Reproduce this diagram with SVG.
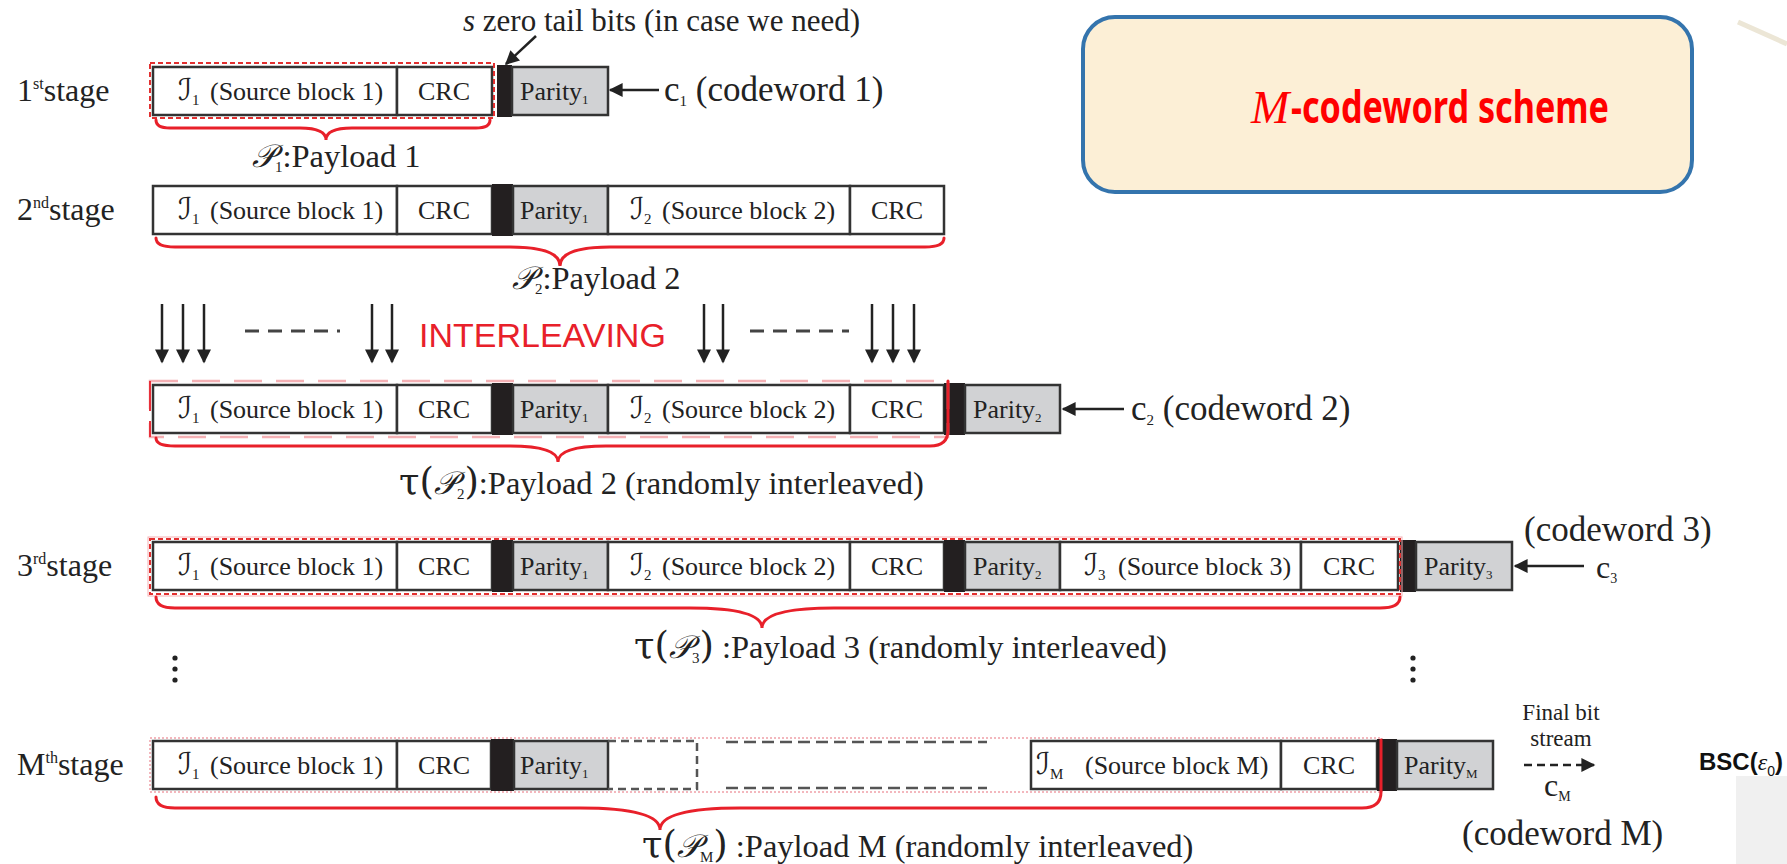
<svg xmlns="http://www.w3.org/2000/svg" width="1787" height="864" viewBox="0 0 1787 864">
<defs>
<style>
.cell{fill:#fff;stroke:#333;stroke-width:2.5}
.par{fill:#d1d2d4;stroke:#333;stroke-width:2.5}
.tail{fill:#231f20}
.t{font-family:"Liberation Serif","DejaVu Serif",serif;font-size:26px;fill:#222}
.scr{font-family:"DejaVu Serif","DejaVu Sans",serif;font-style:italic;font-size:30px}
.lbl{font-family:"Liberation Serif","DejaVu Serif",serif;font-size:32px;fill:#222}
.pl{font-family:"Liberation Serif","DejaVu Serif",serif;font-size:32.5px;fill:#222}
.tau{font-family:"DejaVu Serif","Liberation Serif",serif;font-size:37px;fill:#222}
.cw{font-family:"Liberation Serif","DejaVu Serif",serif;font-size:35px;fill:#222}
.brace{fill:none;stroke:#e8202a;stroke-width:3;stroke-linecap:round}
.rdash{fill:none;stroke:#e23030;stroke-width:2;stroke-dasharray:5 3}
.pdash{fill:none;stroke:#f4b0b4;stroke-width:2.5;stroke-dasharray:28 14}
.pdot{fill:none;stroke:#f0a0a8;stroke-width:1.5;stroke-dasharray:2 2}
.ar{stroke:#222;stroke-width:2.5;fill:none}
.gdash{stroke:#444;stroke-width:3;stroke-dasharray:14 9}
</style>
<marker id="ah" viewBox="0 0 10 10" refX="9" refY="5" markerWidth="16" markerHeight="14" markerUnits="userSpaceOnUse" orient="auto"><path d="M0,0 L10,5 L0,10 z" fill="#222"/></marker>
</defs>

<!-- background artifacts -->
<rect x="1736" y="776" width="51" height="88" fill="#f0f0f0"/>
<line x1="1738" y1="22" x2="1787" y2="44" stroke="#ece6d6" stroke-width="5"/>

<!-- title box -->
<g id="title">
<rect x="1083" y="17" width="609" height="175" rx="32" fill="#fcefd6" stroke="#3474ad" stroke-width="4"/>
<text x="1251" y="123" fill="#ff0000" font-family="Liberation Serif,serif" font-style="italic" font-size="46">M</text>
<text x="1291" y="123" fill="#ff0000" font-family="Noto Sans,Open Sans,sans-serif" font-weight="bold" font-size="44" textLength="318" lengthAdjust="spacingAndGlyphs">-codeword scheme</text>
</g>

<!-- top note -->
<g id="note">
<text x="463" y="31" class="t" style="font-size:31px"><tspan font-style="italic">s</tspan> zero tail bits</text>
<text x="644" y="31" class="t" style="font-size:31px">(in case we need)</text>
</g>

<!-- stage 1 -->
<g id="stage1">
<text x="17" y="101" class="lbl">1<tspan font-size="16" dy="-12">st</tspan><tspan dy="12">stage</tspan></text>
<rect class="cell" x="153" y="67" width="244" height="48"/>
<rect class="cell" x="397" y="67" width="95" height="48"/>
<rect class="tail" x="497" y="65" width="15" height="52"/>
<rect class="par" x="512" y="67" width="96" height="48"/>
<rect class="rdash" x="150" y="63" width="344" height="55"/>
<text x="178" y="100" class="t"><tspan class="scr">ℐ</tspan><tspan font-size="15" dy="5">1</tspan><tspan x="210" dy="-5">(Source block 1)</tspan></text>
<text x="444" y="100" class="t" text-anchor="middle">CRC</text>
<text x="520" y="100" class="t">Parity<tspan font-size="13" dy="4">1</tspan></text>
<text x="664" y="101" class="cw">c<tspan font-size="15" dy="5">1</tspan><tspan dy="-5"> (codeword 1)</tspan></text>
</g>

<!-- stage 2 -->
<g id="stage2">
<text x="17" y="220" class="lbl">2<tspan font-size="16" dy="-12">nd</tspan><tspan dy="12">stage</tspan></text>
<rect class="cell" x="153" y="186" width="244" height="48"/>
<rect class="cell" x="397" y="186" width="95" height="48"/>
<rect class="tail" x="492" y="184" width="21" height="52"/>
<rect class="par" x="513" y="186" width="95" height="48"/>
<rect class="cell" x="608" y="186" width="242" height="48"/>
<rect class="cell" x="850" y="186" width="94" height="48"/>
<text x="178" y="219" class="t"><tspan class="scr">ℐ</tspan><tspan font-size="15" dy="5">1</tspan><tspan x="210" dy="-5">(Source block 1)</tspan></text>
<text x="444" y="219" class="t" text-anchor="middle">CRC</text>
<text x="520" y="219" class="t">Parity<tspan font-size="13" dy="4">1</tspan></text>
<text x="630" y="219" class="t"><tspan class="scr">ℐ</tspan><tspan font-size="15" dy="5">2</tspan><tspan x="662" dy="-5">(Source block 2)</tspan></text>
<text x="897" y="219" class="t" text-anchor="middle">CRC</text>
</g>

<!-- interleaving -->
<g id="interleaving">
<text x="419" y="347" font-family="Liberation Sans,Arial,sans-serif" font-size="34" fill="#e8202a">INTERLEAVING</text>
<line class="gdash" x1="245" y1="331" x2="340" y2="331"/>
<line class="gdash" x1="750" y1="331" x2="849" y2="331"/>
</g>

<!-- interleaved stage 2 -->
<g id="stage2i">
<rect class="cell" x="153" y="385" width="244" height="48"/>
<rect class="cell" x="397" y="385" width="95" height="48"/>
<rect class="tail" x="492" y="383" width="21" height="52"/>
<rect class="par" x="513" y="385" width="95" height="48"/>
<rect class="cell" x="608" y="385" width="242" height="48"/>
<rect class="cell" x="850" y="385" width="94" height="48"/>
<rect class="tail" x="944" y="383" width="21" height="52"/>
<rect class="par" x="965" y="385" width="95" height="48"/>
<rect class="pdash" x="150" y="381" width="798" height="56"/>
<line x1="150" y1="381" x2="150" y2="437" stroke="#e8303a" stroke-width="2" stroke-dasharray="30 10"/>
<text x="178" y="418" class="t"><tspan class="scr">ℐ</tspan><tspan font-size="15" dy="5">1</tspan><tspan x="210" dy="-5">(Source block 1)</tspan></text>
<text x="444" y="418" class="t" text-anchor="middle">CRC</text>
<text x="520" y="418" class="t">Parity<tspan font-size="13" dy="4">1</tspan></text>
<text x="630" y="418" class="t"><tspan class="scr">ℐ</tspan><tspan font-size="15" dy="5">2</tspan><tspan x="662" dy="-5">(Source block 2)</tspan></text>
<text x="897" y="418" class="t" text-anchor="middle">CRC</text>
<text x="973" y="418" class="t">Parity<tspan font-size="13" dy="4">2</tspan></text>
<text x="1131" y="420" class="cw">c<tspan font-size="15" dy="5">2</tspan><tspan dy="-5"> (codeword 2)</tspan></text>
</g>

<!-- stage 3 -->
<g id="stage3">
<text x="17" y="576" class="lbl">3<tspan font-size="16" dy="-12">rd</tspan><tspan dy="12">stage</tspan></text>
<rect class="cell" x="153" y="542" width="244" height="48"/>
<rect class="cell" x="397" y="542" width="95" height="48"/>
<rect class="tail" x="492" y="540" width="21" height="52"/>
<rect class="par" x="513" y="542" width="95" height="48"/>
<rect class="cell" x="608" y="542" width="242" height="48"/>
<rect class="cell" x="850" y="542" width="94" height="48"/>
<rect class="tail" x="944" y="540" width="21" height="52"/>
<rect class="par" x="965" y="542" width="95" height="48"/>
<rect class="cell" x="1060" y="542" width="241" height="48"/>
<rect class="cell" x="1301" y="542" width="97" height="48"/>
<rect class="tail" x="1400" y="540" width="16" height="52"/>
<rect class="par" x="1416" y="542" width="96" height="48"/>
<rect x="148" y="537" width="1254" height="59" fill="none" stroke="#f6b0b4" stroke-width="1"/>
<rect class="rdash" x="150" y="539" width="1250" height="55"/>
<text x="178" y="575" class="t"><tspan class="scr">ℐ</tspan><tspan font-size="15" dy="5">1</tspan><tspan x="210" dy="-5">(Source block 1)</tspan></text>
<text x="444" y="575" class="t" text-anchor="middle">CRC</text>
<text x="520" y="575" class="t">Parity<tspan font-size="13" dy="4">1</tspan></text>
<text x="630" y="575" class="t"><tspan class="scr">ℐ</tspan><tspan font-size="15" dy="5">2</tspan><tspan x="662" dy="-5">(Source block 2)</tspan></text>
<text x="897" y="575" class="t" text-anchor="middle">CRC</text>
<text x="973" y="575" class="t">Parity<tspan font-size="13" dy="4">2</tspan></text>
<text x="1084" y="575" class="t"><tspan class="scr">ℐ</tspan><tspan font-size="15" dy="5">3</tspan><tspan x="1118" dy="-5">(Source block 3)</tspan></text>
<text x="1349" y="575" class="t" text-anchor="middle">CRC</text>
<text x="1424" y="575" class="t">Parity<tspan font-size="13" dy="4">3</tspan></text>
<text x="1524" y="541" class="cw">(codeword 3)</text>
<text x="1596" y="578" class="cw" style="font-size:32px">c<tspan font-size="14" dy="5">3</tspan></text>
</g>

<!-- dots -->
<g id="dots" fill="#222">
<circle cx="175" cy="658" r="2.6"/><circle cx="175" cy="669" r="2.6"/><circle cx="175" cy="680" r="2.6"/>
<circle cx="1413" cy="658" r="2.6"/><circle cx="1413" cy="669" r="2.6"/><circle cx="1413" cy="680" r="2.6"/>
</g>

<!-- stage M -->
<g id="stageM">
<text x="17" y="775" class="lbl">M<tspan font-size="16" dy="-12">th</tspan><tspan dy="12">stage</tspan></text>
<rect class="pdot" x="150" y="738" width="1232" height="54"/>
<rect class="cell" x="153" y="741" width="244" height="48"/>
<rect class="cell" x="397" y="741" width="94" height="48"/>
<rect class="tail" x="491" y="739" width="23" height="52"/>
<rect class="par" x="514" y="741" width="94" height="48"/>
<path d="M608,741 H697 V789 H608" fill="none" stroke="#555" stroke-width="2.5" stroke-dasharray="8 5"/>
<line x1="726" y1="742" x2="987" y2="742" stroke="#555" stroke-width="2.5" stroke-dasharray="12 6"/>
<line x1="726" y1="788" x2="987" y2="788" stroke="#555" stroke-width="2.5" stroke-dasharray="12 6"/>
<rect class="cell" x="1031" y="741" width="250" height="48"/>
<rect class="cell" x="1281" y="741" width="96" height="48"/>
<rect class="tail" x="1377" y="739" width="20" height="52"/>
<rect class="par" x="1397" y="741" width="96" height="48"/>
<text x="178" y="774" class="t"><tspan class="scr">ℐ</tspan><tspan font-size="15" dy="5">1</tspan><tspan x="210" dy="-5">(Source block 1)</tspan></text>
<text x="444" y="774" class="t" text-anchor="middle">CRC</text>
<text x="520" y="774" class="t">Parity<tspan font-size="13" dy="4">1</tspan></text>
<text x="1036" y="774" class="t"><tspan class="scr">ℐ</tspan><tspan font-size="15" dy="5">M</tspan><tspan x="1085" dy="-5">(Source block M)</tspan></text>
<text x="1329" y="774" class="t" text-anchor="middle">CRC</text>
<text x="1404" y="774" class="t">Parity<tspan font-size="13" dy="4">M</tspan></text>
<text x="1561" y="720" class="t" style="font-size:23px" text-anchor="middle">Final bit</text>
<text x="1561" y="746" class="t" style="font-size:23px" text-anchor="middle">stream</text>
<text x="1544" y="796" class="cw" style="font-size:32px">c<tspan font-size="14" dy="5">M</tspan></text>
<text x="1462" y="845" class="cw">(codeword M)</text>
<text x="1699" y="770" font-family="Liberation Sans,Arial,sans-serif" font-weight="bold" font-size="24" fill="#111">BSC(<tspan font-family="Liberation Serif,serif" font-style="italic" font-weight="normal">ε</tspan><tspan font-size="14" dy="6" font-weight="normal">0</tspan><tspan dy="-6">)</tspan></text>
</g>

<!-- payload labels -->
<g id="labels">
<text x="252" y="167" class="pl"><tspan class="scr" style="font-size:32px">𝒫</tspan><tspan font-size="15" dy="5">1</tspan><tspan dy="-5">:Payload 1</tspan></text>
<text x="512" y="289" class="pl"><tspan class="scr" style="font-size:32px">𝒫</tspan><tspan font-size="15" dy="5">2</tspan><tspan dy="-5">:Payload 2</tspan></text>
<text x="399" y="494" class="pl"><tspan class="tau">τ(</tspan><tspan class="scr" style="font-size:32px">𝒫</tspan><tspan font-size="15" dy="5">2</tspan><tspan class="tau" dy="-5">)</tspan>:Payload 2 (randomly interleaved)</text>
<text x="634" y="658" class="pl"><tspan class="tau">τ(</tspan><tspan class="scr" style="font-size:32px">𝒫</tspan><tspan font-size="15" dy="5">3</tspan><tspan class="tau" dy="-5">)</tspan> :Payload 3 (randomly interleaved)</text>
<text x="642" y="857" class="pl"><tspan class="tau">τ(</tspan><tspan class="scr" style="font-size:32px">𝒫</tspan><tspan font-size="15" dy="5">M</tspan><tspan class="tau" dy="-5">)</tspan> :Payload M (randomly interleaved)</text>
</g>

<!-- connectors -->
<g id="connectors">
<line class="ar" x1="536" y1="36" x2="506" y2="64" marker-end="url(#ah)"/>
<line class="ar" x1="659" y1="90" x2="610" y2="90" marker-end="url(#ah)"/>
<line class="ar" x1="1124" y1="409" x2="1063" y2="409" marker-end="url(#ah)"/>
<line class="ar" x1="1584" y1="566" x2="1515" y2="566" marker-end="url(#ah)"/>
<line x1="1524" y1="765" x2="1594" y2="765" stroke="#222" stroke-width="2.5" stroke-dasharray="8 5" marker-end="url(#ah)"/>
<g class="ar" marker-end="url(#ah)">
<line x1="162" y1="304" x2="162" y2="362"/><line x1="183" y1="304" x2="183" y2="362"/><line x1="204" y1="304" x2="204" y2="362"/>
<line x1="372" y1="304" x2="372" y2="362"/><line x1="392" y1="304" x2="392" y2="362"/>
<line x1="704" y1="304" x2="704" y2="362"/><line x1="723" y1="304" x2="723" y2="362"/>
<line x1="872" y1="304" x2="872" y2="362"/><line x1="893" y1="304" x2="893" y2="362"/><line x1="914" y1="304" x2="914" y2="362"/>
</g>
<path class="brace" d="M156,120 Q156,128 170,128 H300 Q326,128 326,140 Q326,128 352,128 H476 Q490,128 490,120"/>
<path class="brace" d="M156,238 Q156,247 175,247 H510 Q560,247 560,266 Q560,247 610,247 H925 Q944,247 944,238"/>
<path class="brace" d="M156,438 Q156,446 175,446 H510 Q558,446 558,462 Q558,446 606,446 H930 Q948,446 948,430 V381"/>
<path class="brace" d="M156,597 Q156,608 175,608 H690 Q762,608 762,628 Q762,608 834,608 H1380 Q1400,608 1400,597"/>
<path class="brace" d="M156,797 Q156,808 175,808 H580 Q660,808 660,830 Q660,808 740,808 H1362 Q1381,808 1381,792 V740"/>
</g>
</svg>
